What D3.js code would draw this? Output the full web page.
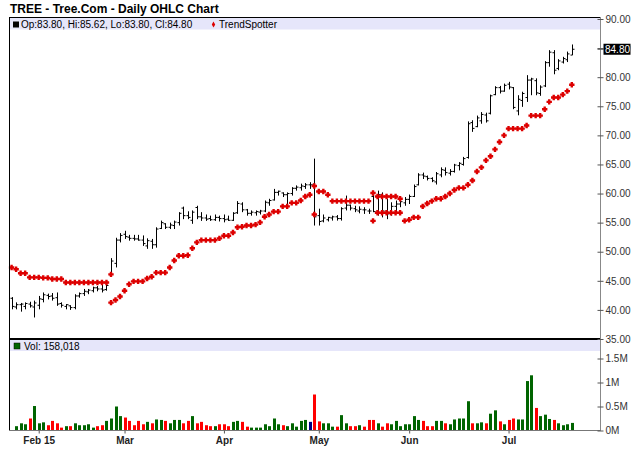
<!DOCTYPE html>
<html>
<head>
<meta charset="utf-8">
<script src="https://cdn.jsdelivr.net/npm/d3@7"></script>
<style>
body { margin: 0; background: #fff; }
text { font-family: "Liberation Sans", Arial, sans-serif; }
</style>
</head>
<body>
<div id="chart"></div>
<script>
// TREE daily bars, 23 Jan 2015 .. 22 Jul 2015 (125 sessions)
var opens = [42.0,40.5,40.9,40.6,41.0,40.5,40.8,41.8,42.5,42.4,
  42.1,41.1,40.6,40.7,40.4,42.4,42.8,43.1,43.3,43.8,
  43.6,43.5,46.0,48.0,52.0,53.0,52.5,52.3,52.2,52.0,
  51.0,51.8,51.2,54.0,54.8,54.2,54.5,55.0,57.5,56.2,
  55.4,57.6,56.0,55.8,55.7,55.5,55.9,55.7,55.6,55.4,
  56.7,58.2,57.2,56.6,56.7,56.8,57.0,58.4,58.9,60.2,
  60.1,59.8,60.0,60.9,61.0,61.2,61.5,61.6,56.2,55.3,
  55.5,55.8,56.0,55.7,57.5,58.0,57.4,57.0,57.2,57.0,
  59.5,57.0,59.8,57.0,56.6,57.8,58.2,58.4,59.0,59.5,
  61.5,63.2,62.9,62.6,62.0,63.2,64.0,63.5,63.8,64.8,
  65.0,66.2,72.2,71.5,72.5,73.5,73.8,77.0,78.2,77.6,
  78.8,78.2,74.2,76.0,76.5,79.5,79.4,77.2,78.5,82.5,
  84.2,81.5,82.6,83.0,83.80];
var highs = [42.2,41.3,41.2,41.3,41.4,41.6,42.4,43.0,42.8,42.9,
  43.0,41.3,41.0,40.8,42.7,43.0,43.6,43.6,44.0,44.1,
  44.3,44.4,48.9,52.4,53.2,53.6,52.9,52.9,52.9,52.8,
  52.3,52.2,54.2,55.35,54.9,55.0,55.35,56.8,57.75,56.95,
  57.1,57.9,56.8,56.4,56.2,56.4,56.2,56.4,56.2,56.8,
  58.7,58.5,57.35,57.1,57.1,57.2,58.8,59.1,60.8,60.5,
  60.2,60.2,61.1,61.4,61.7,61.8,61.95,66.0,57.4,56.4,
  56.0,56.2,56.3,57.65,59.65,58.1,57.9,57.8,57.65,57.4,
  59.9,60.5,60.2,59.1,58.5,58.8,59.1,59.4,59.83,61.55,
  63.5,63.6,63.1,62.8,63.7,64.5,64.5,64.2,65.1,65.4,
  66.3,72.4,72.6,73.4,74.0,73.9,77.0,78.45,78.5,78.9,
  79.2,78.3,76.9,77.5,80.35,79.9,79.8,78.6,82.76,84.65,
  84.65,83.1,83.5,84.4,85.62];
var lows = [40.1,40.1,39.7,40.1,40.4,38.7,40.1,41.3,41.8,41.6,
  40.7,40.4,40.1,40.0,40.1,42.1,42.4,42.7,43.0,43.2,
  43.0,43.3,45.8,47.3,51.6,52.2,51.9,51.9,51.9,51.0,
  50.5,50.5,50.7,53.9,53.9,53.9,53.9,54.5,55.6,55.6,
  54.8,55.6,55.3,55.3,55.3,55.3,55.2,55.05,55.3,55.3,
  56.5,56.8,56.2,56.2,56.2,56.4,56.8,57.9,58.8,59.65,
  59.4,57.6,59.65,60.5,60.5,60.8,60.8,54.5,54.5,55.05,
  55.2,55.35,55.35,55.35,57.1,57.1,56.8,56.6,56.5,56.5,
  56.8,56.2,55.9,55.6,56.2,56.8,57.65,57.9,58.2,59.4,
  61.4,62.5,62.25,61.96,61.55,62.8,63.1,63.1,63.6,63.97,
  64.8,66.0,70.6,71.4,72.0,72.2,73.6,76.9,77.2,77.5,
  77.9,74.5,73.45,74.9,75.75,76.9,76.9,76.8,78.3,81.8,
  80.5,81.2,82.35,82.6,83.80];
var closes = [40.6,40.9,41.0,41.1,40.7,41.2,41.9,42.6,42.3,42.0,
  41.0,40.8,40.9,40.4,42.4,42.8,43.2,43.4,43.8,43.6,
  43.4,44.2,48.4,52.0,52.8,52.6,52.3,52.2,52.0,51.4,
  51.9,51.2,53.9,55.0,54.2,54.6,55.1,56.6,56.2,55.9,
  56.8,56.0,55.8,55.6,55.5,55.9,55.7,55.5,55.4,56.6,
  58.3,57.2,56.6,56.8,56.9,57.0,58.5,58.8,60.2,60.4,
  59.8,60.0,60.9,61.1,61.3,61.5,61.5,56.0,55.2,55.8,
  55.9,56.0,55.7,57.4,58.0,57.5,57.2,57.3,57.2,57.0,
  56.9,59.8,57.0,56.5,57.8,58.2,58.6,59.0,59.5,61.2,
  63.2,63.0,62.6,62.2,63.4,64.1,63.6,63.8,64.9,65.2,
  66.0,72.0,71.2,73.0,73.6,72.5,76.8,78.2,77.6,78.6,
  78.3,74.8,76.2,77.2,79.5,79.7,77.3,78.3,82.5,84.3,
  81.2,82.8,83.2,84.0,84.80];
// volume in millions of shares (first session has no bar)
var volumes = [null,0.09,0.15,0.13,0.25,0.51,0.15,0.17,0.11,0.20,
  0.15,0.06,0.09,0.09,0.15,0.11,0.11,0.13,0.06,0.09,
  0.11,0.20,0.25,0.50,0.30,0.27,0.20,0.11,0.20,0.13,
  0.18,0.15,0.23,0.22,0.20,0.15,0.22,0.22,0.15,0.20,
  0.30,0.15,0.18,0.11,0.09,0.09,0.13,0.13,0.09,0.18,
  0.20,0.18,0.08,0.06,0.06,0.06,0.13,0.09,0.25,0.13,
  0.11,0.09,0.15,0.08,0.20,0.22,0.18,0.75,0.19,0.15,
  0.15,0.08,0.08,0.32,0.15,0.09,0.09,0.11,0.08,0.22,
  0.22,0.15,0.08,0.15,0.13,0.20,0.09,0.13,0.13,0.30,
  0.22,0.20,0.09,0.09,0.20,0.20,0.15,0.13,0.23,0.25,
  0.25,0.61,0.15,0.15,0.17,0.15,0.35,0.42,0.19,0.13,
  0.22,0.25,0.23,0.23,1.03,1.15,0.47,0.30,0.33,0.24,
  0.22,0.15,0.11,0.13,0.158018];
var trendSpotter = [47.3,47.0,46.3,46.3,45.6,45.6,45.6,45.5,45.5,45.3,
  45.3,45.3,44.7,44.7,44.7,44.7,44.7,44.7,44.7,44.7,
  44.7,44.7,41.25,41.7,42.3,43.3,44.4,44.9,44.9,44.9,
  45.4,45.7,46.4,46.4,46.4,47.3,48.5,49.3,49.3,49.4,
  50.6,51.6,52.0,52.0,52.0,52.0,52.3,52.75,52.75,53.3,
  54.2,54.3,54.5,54.5,54.65,55.05,56.0,56.4,56.9,56.9,
  57.8,57.8,58.4,58.4,58.8,59.5,59.8,61.3,60.35,60.35,
  59.8,58.7,58.7,58.7,58.7,58.7,58.7,58.7,58.7,58.7,
  60.1,59.5,59.5,59.5,59.5,59.5,59.1,55.3,55.5,55.9,
  55.9,57.8,58.3,58.7,59.1,59.1,59.5,60.0,60.6,60.97,
  60.97,61.5,62.24,63.8,64.5,65.7,66.4,67.6,68.85,70.0,
  71.15,71.15,71.15,71.15,71.7,73.4,73.4,73.4,74.5,75.75,
  76.5,76.5,77.0,77.6,78.7];
// second TrendSpotter dot on the sessions where it shows two
var trendAltIdx = [22, 67, 80, 81, 82, 83, 84, 85, 86];
var trendAltVal = [46.1, 56.4, 55.3, 56.7, 56.7, 56.7, 56.7, 56.7, 56.7];

var monthTickIdx = [6, 25, 47, 68, 88, 110];
var monthTickLbl = ["Feb 15", "Mar", "Apr", "May", "Jun", "Jul"];
var priceTicks = [35, 40, 45, 50, 55, 60, 65, 70, 75, 80, 85, 90];
var volTicks = [0, 0.5, 1, 1.5];

var W = 640, H = 468;
var left = 9, right = 600.5;
var green = "#006400", red = "#ff0000", navy = "#000080", dotRed = "#dd0000";

var data = highs.map(function (h, i) {
  return { i: i, o: opens[i], h: h, l: lows[i], c: closes[i], v: volumes[i], ts: trendSpotter[i] };
});
var last = data[data.length - 1];

var svg = d3.select("#chart").append("svg")
  .attr("width", W).attr("height", H);

// scales
var x = d3.scaleLinear().domain([0, data.length - 1]).range([11.6, 571.8]);
var yP = d3.scaleLinear().domain([35, 90]).range([339, 19]);
var yV = d3.scaleLinear().domain([0, 1.5]).range([430.5, 358.5]);

// chunky plus used by barchart for the TrendSpotter marks
var fatCross = {
  draw: function (ctx, size) {
    var a = 1.2, b = 2.7;
    ctx.moveTo(-a, -b); ctx.lineTo(a, -b); ctx.lineTo(a, -a); ctx.lineTo(b, -a);
    ctx.lineTo(b, a); ctx.lineTo(a, a); ctx.lineTo(a, b); ctx.lineTo(-a, b);
    ctx.lineTo(-a, a); ctx.lineTo(-b, a); ctx.lineTo(-b, -a); ctx.lineTo(-a, -a);
    ctx.closePath();
  }
};

// title
svg.append("text").attr("x", 10).attr("y", 12.5)
  .attr("font-size", "12px").attr("font-weight", "bold")
  .text("TREE - Tree.Com - Daily OHLC Chart");

// legend bands
svg.append("rect").attr("x", left).attr("y", 18).attr("width", right - left).attr("height", 11.5)
  .attr("fill", "#e6e6fa");
svg.append("rect").attr("x", left).attr("y", 340).attr("width", right - left).attr("height", 11)
  .attr("fill", "#e6e6fa");

// price legend
var f2 = d3.format(".2f");
svg.append("rect").attr("x", 13).attr("y", 21.5).attr("width", 6).attr("height", 6).attr("fill", "#000");
svg.append("text").attr("x", 21).attr("y", 27.5).attr("font-size", "10px")
  .text("Op:" + f2(last.o) + ", Hi:" + f2(last.h) + ", Lo:" + f2(last.l) + ", Cl:" + f2(last.c));
svg.append("path").attr("d", d3.symbol().type(d3.symbolDiamond).size(10)())
  .attr("transform", "translate(213.5,24.5)").attr("fill", dotRed);
svg.append("text").attr("x", 219).attr("y", 27.5).attr("font-size", "10px").text("TrendSpotter");

// volume legend
svg.append("rect").attr("x", 14).attr("y", 343).attr("width", 6).attr("height", 6)
  .attr("fill", green).attr("stroke", "#000").attr("stroke-width", 0.5);
svg.append("text").attr("x", 24).attr("y", 349.5).attr("font-size", "10px")
  .text("Vol: " + d3.format(",")(Math.round(last.v * 1e6)));

// OHLC bars
var px = function (i) { return Math.round(x(i)) + 0.5; };
svg.append("g").selectAll("path").data(data).join("path")
  .attr("d", function (d) {
    var cx = px(d.i);
    return "M" + cx + "," + yP(d.h) + "V" + yP(d.l) +
      "M" + (cx - 2) + "," + yP(d.o) + "H" + cx +
      "M" + cx + "," + yP(d.c) + "H" + (cx + 2);
  })
  .attr("stroke", "#000").attr("stroke-width", 1).attr("fill", "none");

// TrendSpotter dots
var dots = data.map(function (d) { return { i: d.i, v: d.ts }; });
trendAltIdx.forEach(function (idx, k) { dots.push({ i: idx, v: trendAltVal[k] }); });
svg.append("g").selectAll("path").data(dots).join("path")
  .attr("d", d3.symbol().type(fatCross))
  .attr("transform", function (d) { return "translate(" + x(d.i) + "," + yP(d.v) + ")"; })
  .attr("fill", dotRed);

// volume bars
svg.append("g").selectAll("rect").data(data.filter(function (d) { return d.v != null; })).join("rect")
  .attr("x", function (d) { return Math.round(x(d.i)) - 1; })
  .attr("y", function (d) { return yV(d.v); })
  .attr("width", 3)
  .attr("height", function (d) { return yV(0) - yV(d.v); })
  .attr("fill", function (d) {
    var p = data[d.i - 1].c;
    return d.c > p ? green : (d.c < p ? red : navy);
  });

// frame
svg.append("line").attr("x1", left).attr("x2", right).attr("y1", 17.5).attr("y2", 17.5).attr("stroke", "#000");
svg.append("line").attr("x1", left + 0.5).attr("x2", left + 0.5).attr("y1", 17).attr("y2", 431).attr("stroke", "#000");
svg.append("line").attr("x1", left).attr("x2", right).attr("y1", 339).attr("y2", 339)
  .attr("stroke", "#000").attr("stroke-width", 2);
svg.append("line").attr("x1", left).attr("x2", right).attr("y1", 430.5).attr("y2", 430.5).attr("stroke", "#777");
svg.append("line").attr("x1", right).attr("x2", right).attr("y1", 17).attr("y2", 431).attr("stroke", "#888");

// price axis
var gP = svg.append("g").attr("transform", "translate(" + right + ",0)")
  .call(d3.axisRight(yP).tickValues(priceTicks).tickFormat(f2).tickSize(3).tickPadding(2));
gP.select(".domain").remove();
gP.selectAll(".tick line").attr("x1", -3).attr("stroke", "#555");
gP.selectAll(".tick text").attr("font-size", "10px").attr("font-family", null).attr("fill", "#333");

// volume axis
var gV = svg.append("g").attr("transform", "translate(" + right + ",0)")
  .call(d3.axisRight(yV).tickValues(volTicks)
    .tickFormat(function (d) { return d + "M"; }).tickSize(3).tickPadding(2));
gV.select(".domain").remove();
gV.selectAll(".tick line").attr("x1", -3).attr("stroke", "#555");
gV.selectAll(".tick text").attr("font-size", "10px").attr("font-family", null).attr("fill", "#333");

// last price marker
var yl = yP(last.c);
svg.append("line").attr("x1", right - 3).attr("x2", right + 3).attr("y1", yl).attr("y2", yl).attr("stroke", "#555");
svg.append("rect").attr("x", 603.5).attr("y", yl - 5.5).attr("width", 27).attr("height", 11).attr("fill", "#000");
svg.append("text").attr("x", 605).attr("y", yl + 3.5).attr("font-size", "10px").attr("fill", "#fff").text(f2(last.c));

// date axis
var gX = svg.append("g").attr("transform", "translate(0,430.5)")
  .call(d3.axisBottom(x).tickValues(monthTickIdx)
    .tickFormat(function (d, k) { return monthTickLbl[k]; }).tickSize(3).tickPadding(3));
gX.select(".domain").remove();
gX.selectAll(".tick line").attr("stroke", "#555");
gX.selectAll(".tick text").attr("font-size", "10px").attr("font-weight", "bold")
  .attr("font-family", null).attr("fill", "#222");
</script>
</body>
</html>
